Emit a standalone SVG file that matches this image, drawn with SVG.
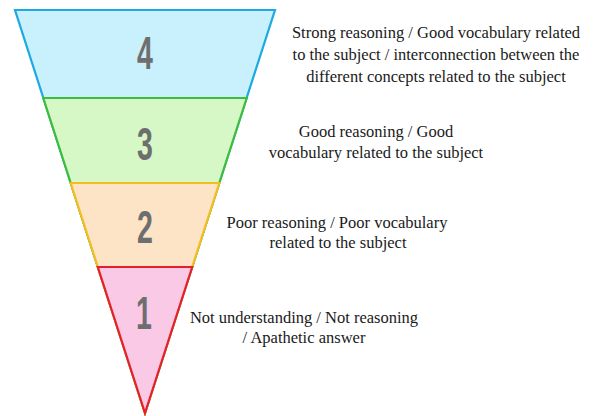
<svg xmlns="http://www.w3.org/2000/svg" width="609" height="416" viewBox="0 0 609 416">
<style>
.lvl{stroke-width:2.2;stroke-linejoin:miter}
.num{font-family:"Liberation Sans",Arial,sans-serif;font-weight:bold;font-size:46px;fill:#6e6e6e;text-anchor:middle}
.lbl{font-family:'Liberation Serif','DejaVu Serif',serif;font-size:16.5px;fill:#1a1a1a;text-anchor:middle}
</style>
<rect width="609" height="416" fill="#ffffff"/>
<g id="level4">
<polygon class="lvl" points="15,10 275,10 145,413" fill="#c9f0fd" stroke="#1ea9e1"/>
<text class="num" transform="translate(145,69) scale(0.62,1)" x="0" y="0">4</text>
</g>
<g id="level3">
<polygon class="lvl" points="43.3,98 246.7,98 145,413" fill="#d5f8c6" stroke="#3cbd3c"/>
<text class="num" transform="translate(145,160) scale(0.62,1)" x="0" y="0">3</text>
</g>
<g id="level2">
<polygon class="lvl" points="70.7,183 219.3,183 145,413" fill="#fde4c6" stroke="#f6bd1e"/>
<text class="num" transform="translate(145,243) scale(0.62,1)" x="0" y="0">2</text>
</g>
<g id="level1">
<polygon class="lvl" points="97.8,267 192.2,267 145,413" fill="#f9c9e6" stroke="#e6202a"/>
<text class="num" transform="translate(144,329) scale(0.62,1)" x="0" y="0">1</text>
</g>
<g id="label4">
<text class="lbl" x="436" y="38">Strong reasoning / Good vocabulary related</text>
<text class="lbl" x="436" y="60">to the subject / interconnection between the</text>
<text class="lbl" x="436" y="82">different concepts related to the subject</text>
</g>
<g id="label3">
<text class="lbl" x="376" y="137">Good reasoning / Good</text>
<text class="lbl" x="376" y="158">vocabulary related to the subject</text>
</g>
<g id="label2">
<text class="lbl" x="337" y="228">Poor reasoning / Poor vocabulary</text>
<text class="lbl" x="338" y="248">related to the subject</text>
</g>
<g id="label1">
<text class="lbl" x="304" y="323">Not understanding / Not reasoning</text>
<text class="lbl" x="304" y="343">/ Apathetic answer</text>
</g>
<g id="connectors"></g>
</svg>
